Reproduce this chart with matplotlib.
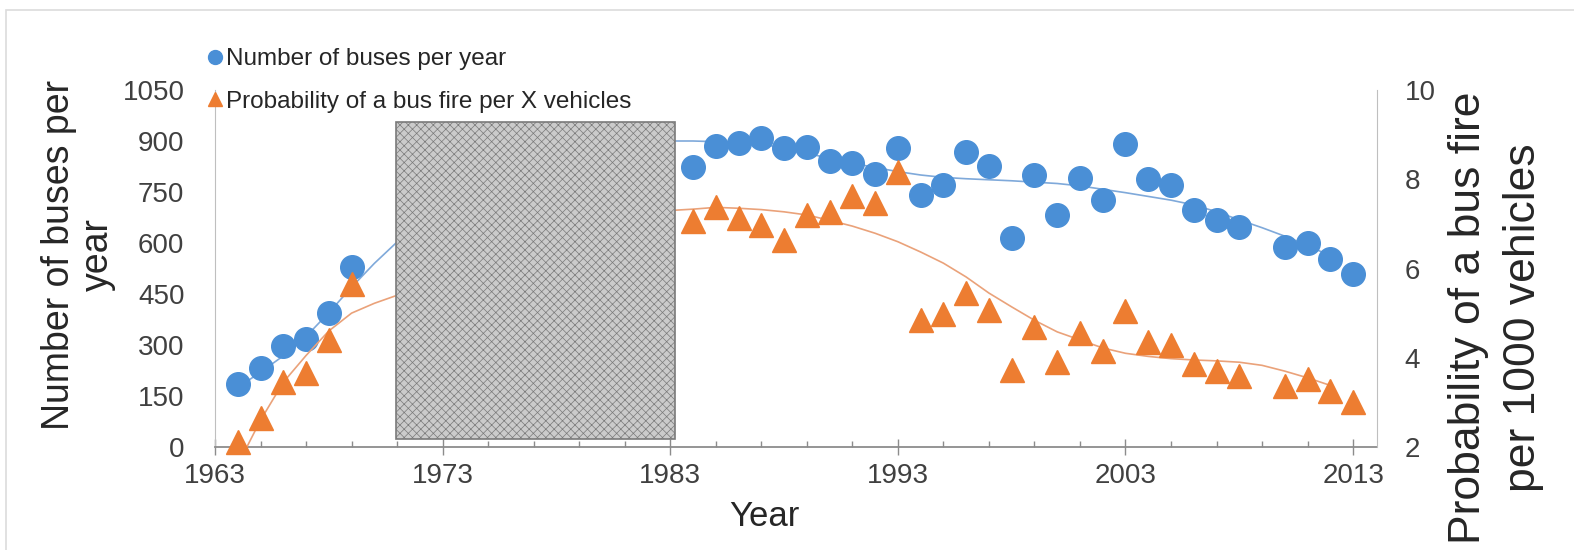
import matplotlib
matplotlib.use("Agg")
import matplotlib.pyplot as plt
from matplotlib.patches import Rectangle
from matplotlib.lines import Line2D
from matplotlib.ticker import MultipleLocator, FixedLocator

plt.rcParams['font.family'] = ['Liberation Sans', 'DejaVu Sans']
plt.rcParams['hatch.color'] = '#b8b8b8'
plt.rcParams['hatch.linewidth'] = 0.5

# Observed years (1970-1983 withheld)
years = [1964, 1965, 1966, 1967, 1968, 1969,
         1984, 1985, 1986, 1987, 1988, 1989, 1990, 1991, 1992, 1993,
         1994, 1995, 1996, 1997, 1998, 1999, 2000, 2001, 2002, 2003,
         2004, 2005, 2006, 2007, 2008, 2010, 2011, 2012, 2013]

# Number of buses per year (left axis)
buses = [185, 232, 298, 318, 395, 529,
         824, 886, 895, 908, 878, 883, 842, 834, 803, 878,
         741, 770, 868, 826, 614, 800, 682, 790, 726, 891,
         787, 771, 696, 669, 646, 587, 601, 552, 509]

# Probability of a bus fire per 1000 vehicles (right axis)
fire_prob = [2.12, 2.65, 3.46, 3.66, 4.40, 5.65,
             7.07, 7.37, 7.14, 6.97, 6.64, 7.20, 7.26, 7.62, 7.46, 8.17,
             4.84, 4.98, 5.46, 5.08, 3.73, 4.69, 3.91, 4.55, 4.15, 5.05,
             4.36, 4.28, 3.85, 3.71, 3.60, 3.37, 3.52, 3.26, 3.01]

# Trend lines
bus_trend_years = [1964, 1965, 1966, 1967, 1968, 1969, 1970, 1971] + list(range(1983, 2013))
bus_trend = [175, 220, 268, 325, 395, 470, 540, 603,
             900, 900, 898, 895, 890, 880, 865, 848, 835, 822, 810, 800,
             793, 789, 786, 783, 779, 775, 768, 758, 748, 737, 726, 712,
             692, 668, 645, 620, 593, 562]

fire_trend_years = [1964.4, 1965, 1966, 1967, 1968, 1969, 1970, 1971] + list(range(1983, 2013))
fire_trend = [2.0, 2.6, 3.45, 4.05, 4.6, 5.0, 5.22, 5.4,
              7.30, 7.33, 7.37, 7.35, 7.32, 7.27, 7.20, 7.08, 6.95, 6.79,
              6.60, 6.37, 6.12, 5.81, 5.45, 5.14, 4.84, 4.58, 4.40, 4.22,
              4.10, 4.03, 3.98, 3.95, 3.93, 3.90, 3.83, 3.70, 3.55, 3.38]

# Withheld period shown as a shaded block
masked_years = (1970.95, 1983.2)
masked_buses = (24, 956)

x_ticks = [1963, 1973, 1983, 1993, 2003, 2013]
left_ticks = [0, 150, 300, 450, 600, 750, 900, 1050]
right_ticks = [2, 4, 6, 8, 10]

BLUE = '#4a8fd6'
ORANGE = '#ed7d31'
TEXT = '#404040'

W, H = 1574, 550
fig = plt.figure(figsize=(W / 100, H / 100), dpi=100)
fig.patch.set_facecolor('white')

# chart-area frame
fig.patches.append(Rectangle((6 / W, -0.05), 1.1, 1 - 10 / H + 0.05,
                             transform=fig.transFigure, fill=False,
                             edgecolor='#dcdcdc', linewidth=1.2))

ax = fig.add_axes([215 / W, 1 - 447 / H, (1377 - 215) / W, (447 - 90) / H])
ax2 = ax.twinx()

ax.set_xlim(1963, 2014.05)
ax.set_ylim(0, 1050)
ax2.set_ylim(2, 10)

ax.plot(bus_trend_years, bus_trend, color='#7fa9da', lw=1.2, zorder=2)
ax.plot(years, buses, 'o', color=BLUE, ms=17, mec=BLUE, zorder=3, clip_on=False)
ax2.plot(fire_trend_years, fire_trend, color='#eaa27a', lw=1.2, zorder=2)
ax2.plot(years, fire_prob, '^', color=ORANGE, ms=17, mec=ORANGE, zorder=3,
         clip_on=False)

block = Rectangle((masked_years[0], masked_buses[0]),
                  masked_years[1] - masked_years[0],
                  masked_buses[1] - masked_buses[0],
                  transform=ax.transData, facecolor='#cbcbcb', hatch='xxxx',
                  edgecolor='#7a7a7a', linewidth=1.2, zorder=10)
ax2.add_patch(block)

for a in (ax, ax2):
    a.spines['top'].set_visible(False)
ax.spines['right'].set_visible(False)
ax2.spines['left'].set_visible(False)
ax2.spines['bottom'].set_visible(False)
ax.spines['left'].set_color('#bfbfbf')
ax2.spines['right'].set_color('#bfbfbf')
ax.spines['bottom'].set_color('#8c8c8c')
ax.spines['bottom'].set_linewidth(1.3)

ax.xaxis.set_major_locator(FixedLocator(x_ticks))
ax.xaxis.set_minor_locator(MultipleLocator(2, offset=1))
ax.yaxis.set_major_locator(FixedLocator(left_ticks))
ax2.yaxis.set_major_locator(FixedLocator(right_ticks))

ax.tick_params(axis='x', which='major', direction='inout', length=11, width=1,
               color='#8c8c8c', labelsize=20, labelcolor=TEXT, pad=6)
ax.tick_params(axis='x', which='minor', direction='in', length=4, width=1,
               color='#8c8c8c')
ax.tick_params(axis='y', length=0, labelsize=20, labelcolor=TEXT, pad=22)
ax2.tick_params(axis='y', length=0, labelsize=20, labelcolor=TEXT, pad=20)

fig.text(78 / W, 1 - 255 / H, 'Number of buses per\nyear', rotation=90,
         ha='center', va='center', multialignment='center',
         fontsize=27, color='#262626', linespacing=1.1)
fig.text(1496 / W, 1 - 318 / H, 'Probability of a bus fire\nper 1000 vehicles',
         rotation=90, ha='center', va='center', multialignment='center',
         fontsize=32, color='#262626', linespacing=1.42)
fig.text(764 / W, 1 - 517 / H, 'Year', ha='center', va='center',
         fontsize=25, color='#262626')

handles = [Line2D([], [], marker='o', ls='none', color=BLUE, ms=10),
           Line2D([], [], marker='^', ls='none', color=ORANGE, ms=10)]
fig.legend(handles, ['Number of buses per year',
                     'Probability of a bus fire per X vehicles'],
           loc='upper left', bbox_to_anchor=(192 / W, 1 - 36 / H),
           frameon=False, fontsize=17.5, handletextpad=0.0, handlelength=0.9,
           labelspacing=0.85, borderpad=0, labelcolor='#262626')

fig.savefig('out.png', dpi=100, facecolor='white')
